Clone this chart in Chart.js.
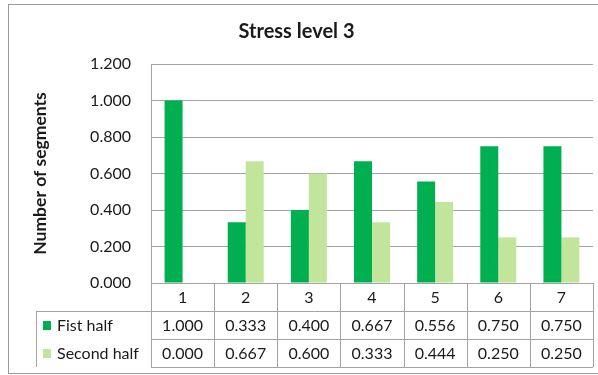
<!DOCTYPE html>
<html>
<head>
<meta charset="utf-8">
<script src="https://cdn.jsdelivr.net/npm/chart.js@4/dist/chart.umd.min.js"></script>
<style>
  html, body { margin: 0; padding: 0; background: #fff; }
  canvas { display: block; }
</style>
</head>
<body>
<canvas id="stressChart" width="598" height="375"></canvas>
<script>
// 데이터
const categories = ['1', '2', '3', '4', '5', '6', '7'];
const seriesNames = ['Fist half', 'Second half'];
const firstHalf = [1.000, 0.333, 0.400, 0.667, 0.556, 0.750, 0.750];
const secondHalf = [0.000, 0.667, 0.600, 0.333, 0.444, 0.250, 0.250];
const yTicks = [0, 0.2, 0.4, 0.6, 0.8, 1.0, 1.2];

const seriesColors = ['#00b050', '#c2e59c'];
const lineColor = '#a3a3a3';
const textColor = '#1a1a1a';
const fontFamily = 'Lato, "Open Sans", sans-serif';

// 흰 배경 + 바깥 테두리
const frame = {
    id: 'frame',
    beforeDraw(chart) {
        const ctx = chart.ctx;
        ctx.save();
        ctx.fillStyle = '#fff';
        ctx.fillRect(0, 0, chart.width, chart.height);
        ctx.restore();
    },
    afterDraw(chart) {
        const ctx = chart.ctx;
        ctx.save();
        ctx.strokeStyle = '#9a9a9a';
        ctx.lineWidth = 1;
        ctx.strokeRect(8.5, 4.5, 600, 369);
        ctx.restore();
    }
};

// 차트 아래 데이터 표
const dataTable = {
    id: 'dataTable',
    afterDraw(chart) {
        const ctx = chart.ctx;
        const { left, right, bottom } = chart.chartArea;
        const xs = chart.scales.x;
        const colW = (right - left) / categories.length;
        const rowH = 28;
        const tableLeft = 36;
        const rows = [firstHalf, secondHalf];

        ctx.save();
        ctx.strokeStyle = lineColor;
        ctx.lineWidth = 1;
        const px = v => Math.round(v) + 0.5;

        ctx.beginPath();
        // 가로선
        for (let r = 1; r <= 3; r++) {
            const y = px(bottom + rowH * r);
            ctx.moveTo(r === 1 ? tableLeft : left, y);
            ctx.lineTo(right, y);
        }
        // 세로선
        for (let i = 0; i <= categories.length; i++) {
            const x = px(left + colW * i);
            ctx.moveTo(x, bottom);
            ctx.lineTo(x, bottom + rowH * 3);
        }
        ctx.moveTo(px(tableLeft), bottom + rowH);
        ctx.lineTo(px(tableLeft), bottom + rowH * 3);
        ctx.stroke();

        ctx.fillStyle = textColor;
        ctx.font = '16px ' + fontFamily;
        ctx.textAlign = 'center';
        ctx.textBaseline = 'middle';

        // 카테고리 행
        categories.forEach((c, i) => {
            ctx.fillText(c, xs.getPixelForValue(i), bottom + rowH / 2 + 1);
        });

        // 값 행
        rows.forEach((vals, r) => {
            const cy = bottom + rowH * (r + 1) + rowH / 2 + 1;
            vals.forEach((v, i) => {
                ctx.fillText(v.toFixed(3), xs.getPixelForValue(i), cy);
            });
            // 범례 표시
            ctx.fillStyle = seriesColors[r];
            ctx.fillRect(43, cy - 5, 8, 9);
            ctx.fillStyle = textColor;
            ctx.textAlign = 'left';
            ctx.fillText(seriesNames[r], 57, cy);
            ctx.textAlign = 'center';
        });
        ctx.restore();
    }
};

new Chart(document.getElementById('stressChart'), {
    type: 'bar',
    data: {
        labels: categories,
        datasets: [
            {
                label: seriesNames[0],
                data: firstHalf,
                backgroundColor: seriesColors[0],
                categoryPercentage: 0.57,
                barPercentage: 1.0
            },
            {
                label: seriesNames[1],
                data: secondHalf,
                backgroundColor: seriesColors[1],
                categoryPercentage: 0.57,
                barPercentage: 1.0
            }
        ]
    },
    options: {
        responsive: false,
        animation: false,
        layout: {
            padding: { left: 0, right: 5, top: 0, bottom: 92 }
        },
        plugins: {
            legend: { display: false },
            tooltip: { enabled: false },
            title: {
                display: true,
                text: 'Stress level 3',
                color: textColor,
                font: { family: fontFamily, size: 20, weight: 'bold' },
                padding: { top: 20, bottom: 20 }
            }
        },
        scales: {
            x: {
                afterFit(scale) { scale.height = 0; },
                grid: { display: false },
                border: { display: false },
                ticks: { display: false }
            },
            y: {
                min: 0,
                max: 1.2,
                afterFit(scale) { scale.width = 151; },
                afterBuildTicks(scale) {
                    scale.ticks = yTicks.map(v => ({ value: v }));
                },
                grid: { color: lineColor, drawTicks: false },
                border: { display: true, color: lineColor },
                ticks: {
                    padding: 20,
                    color: textColor,
                    font: { family: fontFamily, size: 16 },
                    callback: v => v.toFixed(3)
                },
                title: {
                    display: true,
                    text: 'Number of segments',
                    color: textColor,
                    font: { family: fontFamily, size: 17.5, weight: 'bold' },
                    padding: { top: 30, bottom: 0 }
                }
            }
        }
    },
    plugins: [frame, dataTable]
});
</script>
</body>
</html>
